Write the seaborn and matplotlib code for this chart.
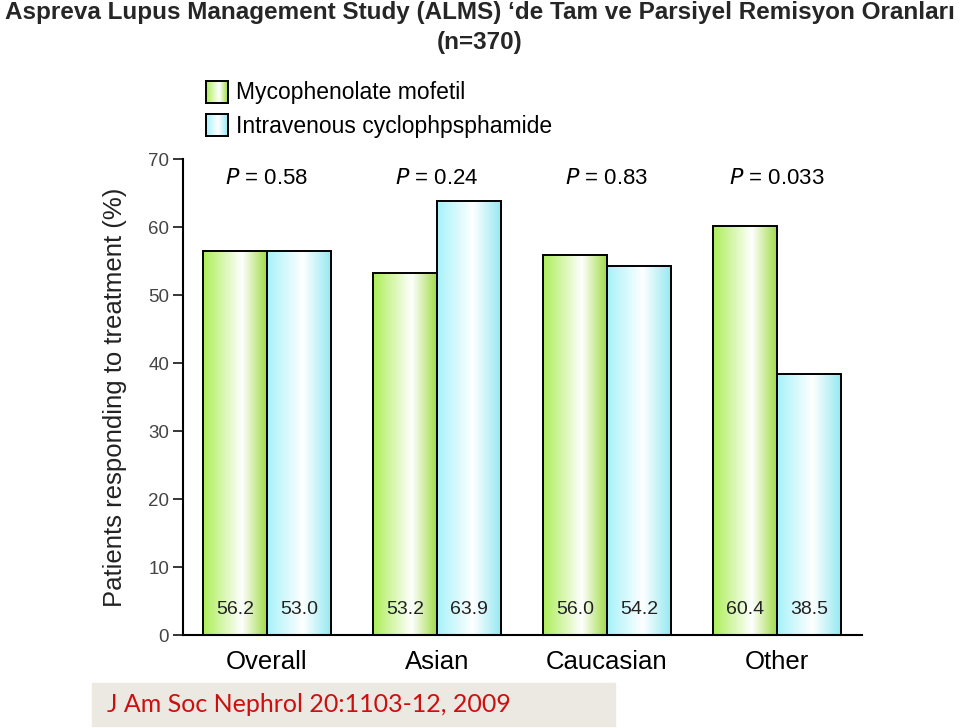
import numpy as np
import pandas as pd
import matplotlib
matplotlib.use("Agg")
import matplotlib.pyplot as plt
import seaborn as sns
from matplotlib.colors import LinearSegmentedColormap
from matplotlib.patches import Rectangle

# ------------------- Data -------------------- #
groups = ["Overall", "Asian", "Caucasian", "Other"]
treatments = ["Mycophenolate mofetil", "Intravenous cyclophpsphamide"]
mmf_height = [56.4, 53.2, 55.9, 60.1]
ivc_height = [56.4, 63.8, 54.2, 38.4]
mmf_labels = ["56.2", "53.2", "56.0", "60.4"]
ivc_labels = ["53.0", "63.9", "54.2", "38.5"]
p_values = ["0.58", "0.24", "0.83", "0.033"]
yticks = [0, 10, 20, 30, 40, 50, 60, 70]

df = pd.DataFrame({
    "group": groups * 2,
    "treatment": [treatments[0]] * 4 + [treatments[1]] * 4,
    "value": mmf_height + ivc_height,
})

sns.set_style("white")
plt.rcParams["font.family"] = ["Liberation Sans", "DejaVu Sans"]

fig = plt.figure(figsize=(9.6, 7.28), dpi=100)
ax = fig.add_axes([183 / 960, 1 - 635 / 728, 679 / 960, 476 / 728])

sns.barplot(data=df, x="group", y="value", hue="treatment", order=groups,
            hue_order=treatments, width=0.753, legend=False, ax=ax,
            edgecolor="black", linewidth=1.4)

# gradient fills (dark edge -> white -> dark edge)
green_cmap = LinearSegmentedColormap.from_list(
    "g", [(0, "#ACEE58"), (0.6, "#FFFFFF"), (1, "#9CDA3E")])
cyan_cmap = LinearSegmentedColormap.from_list(
    "c", [(0, "#A6F2FA"), (0.55, "#FFFFFF"), (1, "#92E8F1")])
grad = np.linspace(0, 1, 256)[np.newaxis, :]

for cont, cmap in zip(ax.containers, [green_cmap, cyan_cmap]):
    for p in cont.patches:
        x0, y0, w, h = p.get_x(), p.get_y(), p.get_width(), p.get_height()
        ax.imshow(grad, cmap=cmap, extent=(x0, x0 + w, y0, y0 + h),
                  aspect="auto", zorder=1.5, interpolation="bilinear")
        p.set_facecolor("none")
        p.set_zorder(2)

ax.set_xlim(-0.494, 3.5)
ax.set_ylim(0, 70)

# value labels inside bars
for cont, labels in zip(ax.containers, [mmf_labels, ivc_labels]):
    for p, lab in zip(cont.patches, labels):
        ax.text(p.get_x() + p.get_width() / 2, 3.7, lab, ha="center",
                va="center", fontsize=14, color="#222222", zorder=3)

# P values
for i, pv in enumerate(p_values):
    ax.text(i, 67.2, r"$\it{P}$" + " = " + pv, ha="center", va="center",
            fontsize=16, color="black")

sns.despine(ax=ax)
for s in ["left", "bottom"]:
    ax.spines[s].set_linewidth(1.5)
    ax.spines[s].set_color("black")

ax.set_yticks(yticks)
ax.tick_params(axis="y", direction="out", length=7, width=1.3, pad=3,
               labelsize=13.5, labelcolor="#444444", left=True)
ax.tick_params(axis="x", length=0, pad=11, labelsize=18.5, labelcolor="black")
ax.set_xlabel("")
ax.set_ylabel("")

fig.text(115 / 960, 1 - 397 / 728, "Patients responding to treatment (%)",
         rotation=90, ha="center", va="center", fontsize=18.5, color="#222222")

# legend with gradient boxes
for j, cmap in enumerate([green_cmap, cyan_cmap]):
    top = 81 + j * 33
    lax = fig.add_axes([206 / 960, 1 - (top + 22) / 728, 22 / 960, 22 / 728])
    lax.imshow(grad, cmap=cmap, aspect="auto", interpolation="bilinear")
    lax.set_xticks([])
    lax.set_yticks([])
    for s in lax.spines.values():
        s.set_linewidth(1.4)
        s.set_color("black")
    fig.text(236 / 960, 1 - (top + 12) / 728, treatments[j], ha="left",
             va="center", fontsize=16.5, color="black")

# title
fig.text(0.5, 1 - 12 / 728, "Aspreva Lupus Management Study (ALMS) \u2018de Tam ve Parsiyel Remisyon Oranlar\u0131",
         ha="center", va="center", fontsize=17.5, fontweight="bold")
fig.text(0.5, 1 - 42 / 728, "(n=370)", ha="center", va="center",
         fontsize=17.5, fontweight="bold")

# citation box
fig.patches.append(Rectangle((92 / 960, 2 / 728), (615 - 92) / 960, 43 / 728,
                             transform=fig.transFigure, color="#ECE9E2",
                             zorder=0))
fig.text(107 / 960, 1 - 704 / 728, "J Am Soc Nephrol 20:1103-12, 2009",
         ha="left", va="center", fontsize=18, color="#CC1010",
         family=["Lato", "DejaVu Sans"])

fig.savefig("out.png", dpi=100)
